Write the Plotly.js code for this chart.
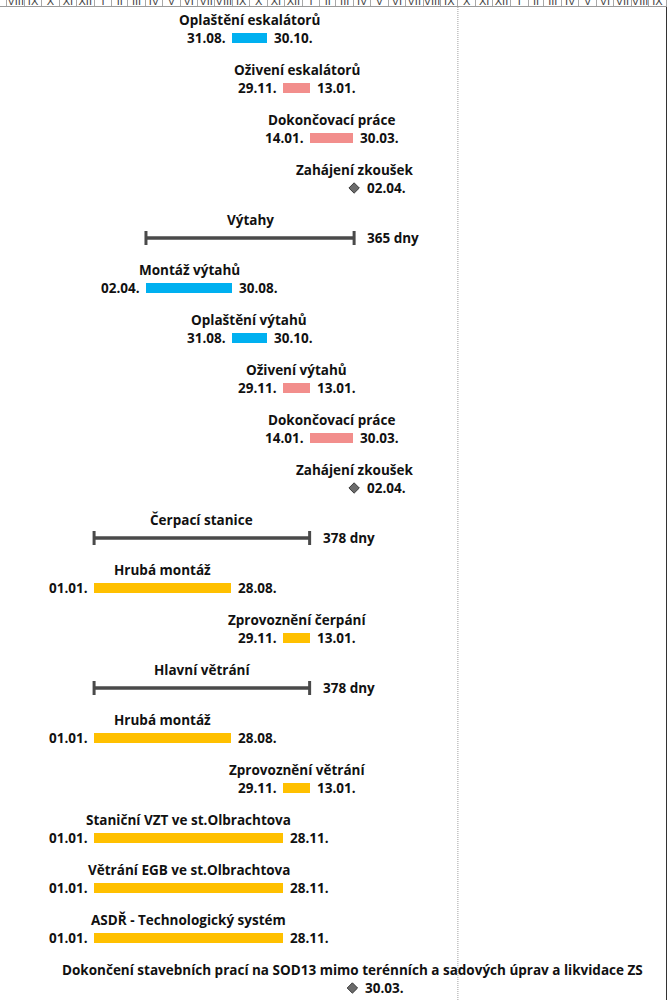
<!DOCTYPE html>
<html>
<head>
<meta charset="utf-8">
<script src="https://cdn.plot.ly/plotly-3.0.1.min.js"></script>
<style>
  html, body { margin: 0; padding: 0; background: #fff; }
  #chart { width: 667px; height: 1000px; }
</style>
</head>
<body>
<div id="chart"></div>
<script>
// ---------- data ----------
const taskNames = [
  "Oplaštění eskalátorů",
  "Oživení eskalátorů",
  "Dokončovací práce",
  "Zahájení zkoušek",
  "Výtahy",
  "Montáž výtahů",
  "Oplaštění výtahů",
  "Oživení výtahů",
  "Dokončovací práce",
  "Zahájení zkoušek",
  "Čerpací stanice",
  "Hrubá montáž",
  "Zprovoznění čerpání",
  "Hlavní větrání",
  "Hrubá montáž",
  "Zprovoznění větrání",
  "Staniční VZT ve st.Olbrachtova",
  "Větrání EGB ve st.Olbrachtova",
  "ASDŘ - Technologický systém",
  "Dokončení stavebních prací na SOD13 mimo terénních a sadových úprav a likvidace ZS"
];
const taskKinds = [
  "task","task","task","milestone","summary",
  "task","task","task","task","milestone",
  "summary","task","task","summary","task",
  "task","task","task","task","milestone"
];
const startDates = [
  "2021-08-31","2021-11-29","2022-01-14","2022-04-02","2021-04-02",
  "2021-04-02","2021-08-31","2021-11-29","2022-01-14","2022-04-02",
  "2021-01-01","2021-01-01","2021-11-29","2021-01-01","2021-01-01",
  "2021-11-29","2021-01-01","2021-01-01","2021-01-01","2022-03-30"
];
const endDates = [
  "2021-10-30","2022-01-13","2022-03-30","2022-04-02","2022-04-01",
  "2021-08-30","2021-10-30","2022-01-13","2022-03-30","2022-04-02",
  "2022-01-13","2021-08-28","2022-01-13","2022-01-13","2021-08-28",
  "2022-01-13","2021-11-28","2021-11-28","2021-11-28","2022-03-30"
];
const barGroups = [
  "blue","pink","pink",null,null,
  "blue","blue","pink","pink",null,
  null,"yellow","yellow",null,"yellow",
  "yellow","yellow","yellow","yellow",null
];
const romanMonths = ["I","II","III","IV","V","VI","VII","VIII","IX","X","XI","XII"];
const timelineStart = "2020-07-20";
const timelineEnd = "2023-10-01";
const statusDate = "2022-10-01";

// ---------- styles ----------
const groupColors = { blue: "#00B0F0", pink: "#F28E8C", yellow: "#FFC000" };
const DAY = 86400000;
const FONT = "Open Sans";

function toMs(s) { return Date.parse(s + "T00:00:00Z"); }
function msToStr(ms) { return new Date(ms).toISOString().slice(0, 10); }
function czDate(s) { return s.slice(8, 10) + "." + s.slice(5, 7) + "."; }

const rows = taskNames.map((_, i) => i + 1);

// header months
const headerStarts = [], headerMids = [], headerText = [];
{
  let y = 2020, m = 6; // July 2020 (0-based month)
  while (Date.UTC(y, m, 1) < toMs(timelineEnd) + DAY) {
    const a = Date.UTC(y, m, 1), b = Date.UTC(y, m + 1, 1);
    headerStarts.push(msToStr(a));
    headerMids.push(new Date((a + b) / 2).toISOString());
    headerText.push(romanMonths[m]);
    m++; if (m > 11) { m = 0; y++; }
  }
}

// ---------- traces ----------
const taskIdx = rows.map((r, i) => i).filter(i => taskKinds[i] === "task");
const barTrace = {
  type: "bar",
  orientation: "h",
  y: taskIdx.map(i => rows[i]),
  base: taskIdx.map(i => startDates[i]),
  x: taskIdx.map(i => toMs(endDates[i]) + DAY - toMs(startDates[i])),
  width: 0.2,
  marker: { color: taskIdx.map(i => groupColors[barGroups[i]]), line: { width: 0 } },
  hoverinfo: "skip",
  showlegend: false
};

const traces = [barTrace];
const sumIdx = rows.map((r, i) => i).filter(i => taskKinds[i] === "summary");
sumIdx.forEach(i => {
  traces.push({
    type: "scatter",
    mode: "lines+markers",
    x: [startDates[i], msToStr(toMs(endDates[i]) + DAY)],
    y: [rows[i], rows[i]],
    line: { color: "#4a4a4a", width: 3.5 },
    marker: { symbol: "line-ns", size: 10, line: { color: "#4a4a4a", width: 3 } },
    hoverinfo: "skip",
    showlegend: false
  });
});
const msIdx = rows.map((r, i) => i).filter(i => taskKinds[i] === "milestone");
traces.push({
  type: "scatter",
  mode: "markers",
  x: msIdx.map(i => startDates[i]),
  y: msIdx.map(i => rows[i]),
  marker: { symbol: "diamond", size: 8, color: "#6b6b6b", line: { color: "#3a3a3a", width: 1 } },
  hoverinfo: "skip",
  showlegend: false
});

// ---------- annotations ----------
const annotations = [];
const txtFont = { family: FONT, size: 13.5, color: "#111", weight: 700 };
rows.forEach((r, i) => {
  const s = toMs(startDates[i]);
  const eEx = toMs(endDates[i]) + DAY;
  const kind = taskKinds[i];
  const center = kind === "milestone" ? startDates[i] : new Date((s + eEx) / 2).toISOString();
  annotations.push({
    x: center, y: r, xref: "x", yref: "y",
    text: taskNames[i], showarrow: false,
    xanchor: "center", yanchor: "middle", yshift: 18,
    font: txtFont
  });
  if (kind === "task") {
    annotations.push({
      x: startDates[i], y: r, xref: "x", yref: "y",
      text: czDate(startDates[i]), showarrow: false,
      xanchor: "right", yanchor: "middle", xshift: -4,
      font: txtFont
    });
    annotations.push({
      x: msToStr(eEx), y: r, xref: "x", yref: "y",
      text: czDate(endDates[i]), showarrow: false,
      xanchor: "left", yanchor: "middle", xshift: 5,
      font: txtFont
    });
  } else if (kind === "summary") {
    const days = Math.round((eEx - s) / DAY);
    annotations.push({
      x: msToStr(eEx), y: r, xref: "x", yref: "y",
      text: days + " dny", showarrow: false,
      xanchor: "left", yanchor: "middle", xshift: 11,
      font: txtFont
    });
  } else {
    annotations.push({
      x: startDates[i], y: r, xref: "x", yref: "y",
      text: czDate(startDates[i]), showarrow: false,
      xanchor: "left", yanchor: "middle", xshift: 11,
      font: txtFont
    });
  }
});

// ---------- layout ----------
const layout = {
  width: 667,
  height: 1000,
  margin: { l: 0, r: 1, t: 7, b: 0 },
  paper_bgcolor: "#fff",
  plot_bgcolor: "#fff",
  showlegend: false,
  bargap: 0,
  xaxis: {
    type: "date",
    range: [timelineStart, timelineEnd],
    side: "top",
    tickmode: "array",
    tickvals: headerMids,
    ticktext: headerText,
    ticks: "",
    ticklabelstandoff: -3,
    tickfont: { family: "Liberation Sans", size: 11, color: "#444" },
    showgrid: false,
    zeroline: false,
    showline: true,
    linecolor: "#9a9a9a",
    linewidth: 1,
    minor: {
      tickmode: "array",
      tickvals: headerStarts,
      ticks: "outside",
      ticklen: 7,
      tickcolor: "#a8a8a8",
      tickwidth: 1,
      showgrid: false
    },
    fixedrange: true
  },
  yaxis: {
    range: [20.24, 0.38],
    showticklabels: false,
    ticks: "",
    showgrid: false,
    zeroline: false,
    showline: true,
    side: "right",
    linecolor: "#333",
    linewidth: 1,
    fixedrange: true
  },
  shapes: [{
    type: "line", xref: "x", yref: "paper",
    x0: statusDate, x1: statusDate, y0: 0, y1: 1,
    line: { color: "#a0a0a0", width: 1, dash: "1px,1px" }
  }],
  annotations: annotations
};

Plotly.newPlot("chart", traces, layout, { staticPlot: true, displayModeBar: false });
</script>
</body>
</html>
